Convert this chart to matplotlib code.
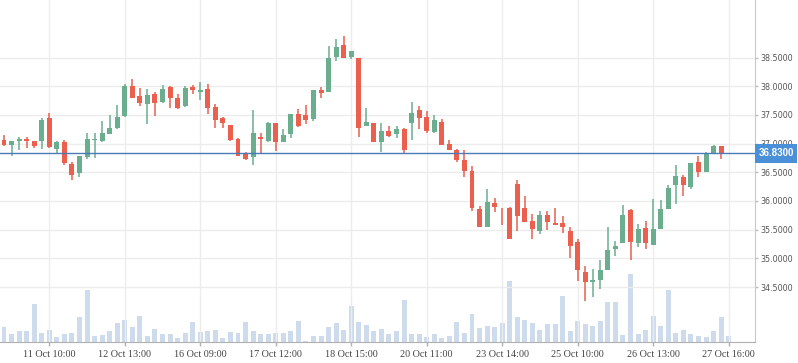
import matplotlib
matplotlib.use("Agg")
import matplotlib.pyplot as plt
import matplotlib.transforms as mtransforms
from matplotlib.patches import Rectangle
import numpy as np

# ---- data ----
opens = [37.06, 36.98, 37.05, 37.08, 37.05, 37.05, 37.45, 36.91, 37.03, 36.65,
         36.48, 36.77, 37.06, 37.05, 37.17, 37.27, 37.48, 38.00, 37.83, 37.69,
         37.86, 37.73, 37.99, 37.79, 37.66, 37.99, 37.90, 37.95, 37.64, 37.45,
         37.32, 37.08, 36.84, 36.77, 37.12, 37.05, 37.36, 37.03, 37.17, 37.52,
         37.50, 37.43, 37.93, 37.90, 38.51, 38.72, 38.51, 38.49, 37.31, 37.36,
         37.03, 37.22, 37.16, 37.25, 37.36, 37.59, 37.46, 37.20, 37.38, 36.99,
         36.89, 36.71, 36.52, 35.86, 35.54, 35.97, 35.88, 35.88, 36.30, 35.88,
         35.65, 35.48, 35.76, 35.61, 35.61, 35.48, 35.29, 34.76, 34.58, 34.63,
         34.80, 35.17, 35.26, 35.84, 35.27, 35.53, 35.24, 35.51, 35.86, 36.28,
         36.42, 36.25, 36.68, 36.51, 36.84, 36.96, 36.83]
highs = [37.15, 37.05, 37.12, 37.12, 37.05, 37.45, 37.53, 37.05, 37.06, 36.68,
         36.78, 37.19, 37.19, 37.39, 37.50, 37.67, 38.04, 38.13, 37.97, 37.95,
         37.90, 38.02, 38.00, 37.86, 38.00, 38.02, 38.07, 38.04, 37.69, 37.46,
         37.32, 37.10, 36.85, 37.59, 37.19, 37.38, 37.36, 37.25, 37.52, 37.60,
         37.67, 37.93, 37.99, 38.70, 38.82, 38.88, 38.61, 38.49, 37.62, 37.36,
         37.36, 37.31, 37.31, 37.27, 37.73, 37.66, 37.57, 37.50, 37.43, 37.06,
         36.91, 36.89, 36.61, 35.91, 36.21, 36.05, 35.88, 35.90, 36.37, 36.09,
         35.77, 35.83, 35.83, 35.88, 35.74, 35.54, 35.34, 34.87, 34.82, 34.97,
         35.55, 35.30, 35.93, 35.86, 35.60, 35.65, 36.04, 36.02, 36.28, 36.63,
         36.45, 36.66, 36.78, 36.85, 36.98, 36.96, 36.83]
lows = [36.95, 36.79, 36.88, 36.93, 36.93, 36.91, 36.92, 36.84, 36.63, 36.37,
        36.42, 36.74, 36.75, 37.03, 37.17, 37.26, 37.46, 37.79, 37.66, 37.34,
        37.48, 37.71, 37.62, 37.60, 37.64, 37.86, 37.76, 37.52, 37.27, 37.27,
        37.05, 36.78, 36.71, 36.63, 36.82, 37.03, 36.87, 37.03, 37.10, 37.29,
        37.34, 37.39, 37.79, 37.90, 38.44, 38.49, 38.47, 37.12, 37.31, 37.03,
        36.86, 37.12, 37.10, 36.84, 37.07, 37.26, 37.19, 37.19, 36.98, 36.89,
        36.68, 36.41, 35.83, 35.54, 35.54, 35.81, 35.59, 35.33, 35.48, 35.64,
        35.34, 35.43, 35.50, 35.59, 35.45, 35.01, 34.61, 34.26, 34.32, 34.47,
        34.80, 35.05, 35.26, 34.98, 35.20, 35.17, 35.24, 35.51, 35.86, 35.95,
        36.08, 36.21, 36.42, 36.51, 36.84, 36.73, 36.83]
closes = [36.98, 37.05, 37.08, 37.05, 36.96, 37.41, 36.94, 37.03, 36.66, 36.45,
          36.78, 37.08, 37.08, 37.19, 37.27, 37.46, 38.00, 37.79, 37.71, 37.85,
          37.71, 37.95, 37.79, 37.62, 37.97, 37.93, 37.93, 37.62, 37.41, 37.36,
          37.06, 36.78, 36.73, 37.19, 37.08, 37.36, 37.03, 37.15, 37.52, 37.31,
          37.41, 37.93, 37.88, 38.49, 38.68, 38.49, 38.61, 37.27, 37.38, 37.03,
          37.22, 37.14, 37.25, 36.88, 37.53, 37.45, 37.22, 37.41, 36.98, 36.89,
          36.72, 36.53, 35.87, 35.54, 35.98, 35.90, 35.87, 35.34, 35.74, 35.64,
          35.52, 35.76, 35.64, 35.59, 35.54, 35.22, 34.80, 34.59, 34.62, 34.80,
          35.15, 35.22, 35.76, 35.29, 35.51, 35.27, 35.51, 35.86, 36.23, 36.44,
          36.28, 36.66, 36.51, 36.84, 36.96, 36.84, 36.83]
volumes = [153, 83, 113, 113, 383, 93, 123, 53, 83, 93,
           253, 523, 63, 73, 113, 193, 223, 153, 263, 63,
           133, 83, 83, 43, 93, 203, 103, 113, 123, 43,
           103, 93, 203, 113, 83, 83, 93, 93, 113, 213,
           13, 63, 63, 153, 193, 123, 363, 203, 173, 113,
           133, 83, 113, 423, 83, 83, 53, 83, 43, 63,
           203, 93, 283, 143, 163, 153, 193, 613, 253, 223,
           193, 123, 183, 183, 463, 113, 213, 183, 163, 213,
           403, 403, 73, 683, 83, 123, 263, 163, 523, 93,
           123, 83, 63, 53, 113, 253, 63]
tick_idx = [6, 16, 26, 36, 46, 56, 66, 76, 86, 96]
tick_labels = ['11 Oct 10:00', '12 Oct 13:00', '16 Oct 09:00', '17 Oct 12:00',
               '18 Oct 15:00', '20 Oct 11:00', '23 Oct 14:00', '25 Oct 10:00',
               '26 Oct 13:00', '27 Oct 16:00']
price_ticks = [34.5, 35.0, 35.5, 36.0, 36.5, 37.0, 37.5, 38.0, 38.5]
last_price = 36.83

# ---- styling ----
UP = '#6aad8f'
DOWN = '#ea5f4e'
VOL = '#cddbec'
GRID = '#ececec'

W, H = 798, 363
fig = plt.figure(figsize=(W / 100, H / 100), dpi=100)
ax_h = 342.3
ax = fig.add_axes([0, (H - ax_h) / H, 755 / W, ax_h / H])
axv = ax.twinx()
ax.set_zorder(axv.get_zorder() + 1)
ax.patch.set_visible(False)
axv.patch.set_facecolor('white')

x = np.arange(len(opens))
o = np.array(opens); c = np.array(closes)
h = np.array(highs); l = np.array(lows)
up = c >= o
colors = np.where(up, UP, DOWN)

# volume
axv.bar(x, volumes, width=0.66, color=VOL, zorder=1)
axv.set_ylim(0, 3423)
axv.set_yticks([])
for s in axv.spines.values():
    s.set_visible(False)

# candles
ax.vlines(x, l, h, colors=colors, linewidth=1.1, zorder=3)
body_h = np.maximum(np.abs(c - o), 0.012)
ax.bar(x, body_h, bottom=np.minimum(o, c), width=0.66, color=colors,
       linewidth=0, zorder=4)

ax.axhline(last_price, color='#4a7ab8', linewidth=1.0, zorder=5)

ax.set_xlim(-0.53, 99.49)
ax.set_ylim(33.538, 39.502)
axv.set_xlim(-0.53, 99.49)

ax.yaxis.tick_right()
ax.set_yticks(price_ticks)
ax.set_yticklabels([f'{p:.4f}' for p in price_ticks], family='DejaVu Sans',
                   fontsize=5.8, color='#555555')
ax.set_xticks(tick_idx)
ax.set_xticklabels(tick_labels, family='Liberation Serif', fontsize=7.3,
                   color='#444444')
ax.tick_params(axis='y', which='both', direction='out', length=2.5, pad=1.2,
               color='#c0c0c0', width=1)
ax.tick_params(axis='x', which='both', direction='out', length=3.0, pad=2.5,
               color='#b0b0b0', width=1)
ax.grid(True, color=GRID, linewidth=1.0, zorder=0)
ax.set_axisbelow(True)

for side in ['left', 'top']:
    ax.spines[side].set_visible(False)
ax.spines['right'].set_color('#c8c8c8')
ax.spines['bottom'].set_color('#b0b0b0')

# last price label box
trans = mtransforms.blended_transform_factory(ax.transAxes, ax.transData)
box_w = 42 / 755
box_h = 19 / 57.4
ax.add_patch(Rectangle((1.0, last_price - box_h / 2), box_w, box_h,
                       transform=trans, facecolor='#4a90d9', edgecolor='none',
                       clip_on=False, zorder=10))
ax.text(1.0 + box_w / 2, last_price, f'{last_price:.4f}', transform=trans,
        ha='center', va='center', color='white', fontsize=7,
        family='Liberation Sans', fontweight='bold', zorder=11, clip_on=False)

fig.savefig('out.png', dpi=100)
